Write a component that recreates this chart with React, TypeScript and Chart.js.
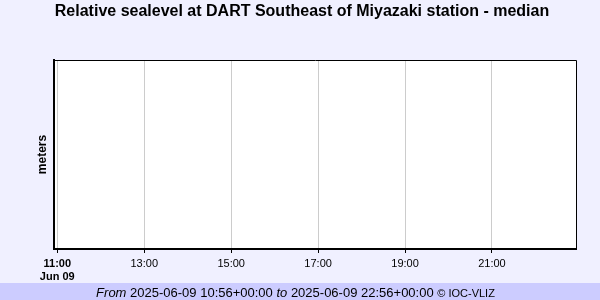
import React, { useEffect, useRef } from "react";
import { Chart, registerables } from "chart.js";

Chart.register(...registerables);

// ---- data ----
const titleText = "Relative sealevel at DART Southeast of Miyazaki station - median";
const yAxisTitle = "meters";
const rangeStartMin = 10 * 60 + 56; // 10:56
const rangeEndMin = 22 * 60 + 56; // 22:56
const tickMinutes = [660, 780, 900, 1020, 1140, 1260];
const tickLabels = ["11:00", "13:00", "15:00", "17:00", "19:00", "21:00"];
const firstTickDate = "Jun 09";
const sealevelTimes: number[] = [];
const sealevelValues: number[] = [];
const footerFromWord = "From";
const footerFromValue = "2025-06-09 10:56+00:00";
const footerToWord = "to";
const footerToValue = "2025-06-09 22:56+00:00";
const footerCredit = "© IOC-VLIZ";

const FONT = "'Liberation Sans', Arial, Helvetica, sans-serif";
const BG = "#f0f0ff";
const FOOTER_BG = "#ccccff";

const framePlugin = {
  id: "frame",
  beforeDraw(chart: any) {
    const { ctx, width, height } = chart;
    ctx.save();
    ctx.fillStyle = BG;
    ctx.fillRect(0, 0, width, height);
    ctx.fillStyle = FOOTER_BG;
    ctx.fillRect(0, 283, width, height - 283);
    const a = chart.chartArea;
    ctx.fillStyle = "#ffffff";
    ctx.fillRect(a.left, a.top, a.right - a.left, a.bottom - a.top);
    ctx.restore();
  },
  afterDraw(chart: any) {
    const { ctx } = chart;
    const a = chart.chartArea;
    ctx.save();
    ctx.strokeStyle = "#000";
    ctx.lineWidth = 1;
    ctx.beginPath();
    ctx.moveTo(a.left, a.top + 0.5);
    ctx.lineTo(Math.round(a.right) + 0.5, a.top + 0.5);
    ctx.lineTo(Math.round(a.right) + 0.5, a.bottom);
    ctx.stroke();

    // footer text
    const parts: [string, string][] = [
      [footerFromWord + " ", `italic 13px ${FONT}`],
      [footerFromValue + " ", `13px ${FONT}`],
      [footerToWord + " ", `italic 13px ${FONT}`],
      [footerToValue + " ", `13px ${FONT}`],
      [footerCredit, `11px ${FONT}`],
    ];
    let total = 0;
    for (const [t, f] of parts) {
      ctx.font = f;
      total += ctx.measureText(t).width;
    }
    let x = 295.5 - total / 2;
    ctx.fillStyle = "#000";
    ctx.textBaseline = "alphabetic";
    for (const [t, f] of parts) {
      ctx.font = f;
      ctx.fillText(t, x, 297);
      x += ctx.measureText(t).width;
    }
    ctx.restore();
  },
};

export default function App() {
  const ref = useRef<HTMLCanvasElement>(null);
  useEffect(() => {
    if (!ref.current) return;
    const chart = new Chart(ref.current, {
      type: "line",
      data: {
        datasets: [
          {
            label: "sealevel",
            data: sealevelTimes.map((t, i) => ({ x: t, y: sealevelValues[i] })),
            borderColor: "#0000ff",
            borderWidth: 1,
            pointRadius: 0,
          },
        ],
      },
      plugins: [framePlugin],
      options: {
        animation: false,
        responsive: false,
        maintainAspectRatio: false,
        layout: { padding: { left: 28, right: 24, top: 0, bottom: 13 } },
        plugins: {
          legend: { display: false },
          tooltip: { enabled: false },
          title: {
            display: true,
            text: titleText,
            color: "#000",
            font: { family: FONT, size: 16, weight: "bold", lineHeight: 1.2 },
            padding: { top: 2.4, bottom: 38.4 },
          },
        },
        scales: {
          x: {
            type: "linear",
            min: rangeStartMin,
            max: rangeEndMin,
            afterBuildTicks: (axis: any) => {
              axis.ticks = tickMinutes.map((v) => ({ value: v }));
            },
            ticks: {
              autoSkip: false,
              maxRotation: 0,
              padding: 4,
              color: "#000",
              font: (c: any) => ({
                family: FONT,
                size: 11,
                lineHeight: "13px",
                weight: c.index === 0 ? "bold" : "normal",
              }),
              callback: (_v: any, i: number) =>
                i === 0 ? [tickLabels[i], firstTickDate] : tickLabels[i],
            },
            grid: {
              display: true,
              color: "#cccccc",
              lineWidth: 1,
              drawTicks: true,
              tickLength: 4,
              tickColor: "#000",
            },
            border: { display: true, color: "#000", width: 2 },
          },
          y: {
            type: "linear",
            min: -1,
            max: 1,
            ticks: { display: false },
            grid: { display: false, drawTicks: false },
            border: { display: true, color: "#000", width: 2 },
            title: {
              display: true,
              text: yAxisTitle,
              color: "#000",
              font: { family: FONT, size: 12, weight: "bold", lineHeight: 1.2 },
              padding: { top: 7, bottom: 5 },
            },
          },
        },
      },
    } as any);
    return () => chart.destroy();
  }, []);
  return (
    <div style={{ position: "fixed", left: 0, top: 0, width: 600, height: 300, background: BG }}>
      <canvas ref={ref} width={600} height={300} style={{ display: "block", width: 600, height: 300 }} />
    </div>
  );
}
